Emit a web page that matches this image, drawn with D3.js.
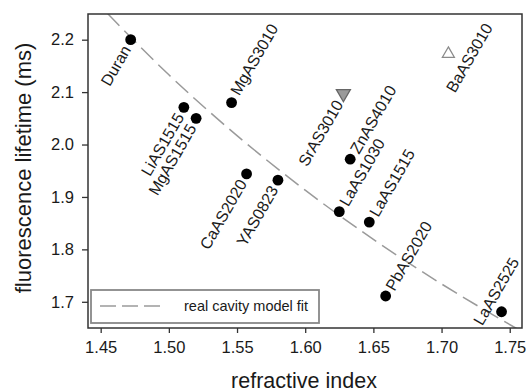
<!DOCTYPE html>
<html>
<head>
<meta charset="utf-8">
<script src="https://cdn.jsdelivr.net/npm/d3@7"></script>
<style>
  html, body { margin: 0; padding: 0; background: #fff; }
  svg { display: block; font-family: "Liberation Sans", Arial, Helvetica, sans-serif; }
</style>
</head>
<body>
<svg id="chart" width="526" height="392"></svg>
<script>
// ---- data ----
const circleNames = ["Duran", "LiAS1515", "MgAS1515", "MgAS3010", "CaAS2020", "YAS0823",
                     "LaAS1030", "ZnAS4010", "LaAS1515", "PbAS2020", "LaAS2525"];
const circleIndex = [1.472, 1.511, 1.520, 1.546, 1.557, 1.580, 1.625, 1.633, 1.647, 1.659, 1.744];
const circleLifetime = [2.200, 2.071, 2.050, 2.080, 1.944, 1.932, 1.872, 1.972, 1.852, 1.711, 1.681];

const triangleNames = ["SrAS3010", "BaAS3010"];
const triangleIndex = [1.628, 1.705];
const triangleLifetime = [2.097, 2.173];

const fitIndex = [1.455, 1.50, 1.55, 1.60, 1.65, 1.70, 1.755];
const fitLifetime = [2.250, 2.133, 2.017, 1.913, 1.819, 1.734, 1.649];

const xTicks = [1.45, 1.50, 1.55, 1.60, 1.65, 1.70, 1.75];
const yTicks = [1.7, 1.8, 1.9, 2.0, 2.1, 2.2];

const xTitle = "refractive index";
const yTitle = "fluorescence lifetime (ms)";
const legendLabel = "real cavity model fit";

// ---- layout ----
const L = 88, R = 522, T = 14, B = 328;
const svg = d3.select("#chart");
const x = d3.scaleLinear().domain([1.4407, 1.759]).range([L, R]);
const y = d3.scaleLinear().domain([1.650, 2.249]).range([B, T]);

// clip
svg.append("defs").append("clipPath").attr("id", "clip")
  .append("rect").attr("x", L).attr("y", T).attr("width", R - L).attr("height", B - T);

// axes
const xAxis = svg.append("g").attr("transform", `translate(0,${B})`)
  .call(d3.axisBottom(x).tickValues(xTicks).tickFormat(d3.format(".2f")).tickSize(5).tickPadding(8));
const yAxis = svg.append("g").attr("transform", `translate(${L},0)`)
  .call(d3.axisLeft(y).tickValues(yTicks).tickFormat(d3.format(".1f")).tickSize(6).tickPadding(8));
[xAxis, yAxis].forEach(g => {
  g.select(".domain").remove();
  g.selectAll(".tick line").attr("stroke", "#333").attr("stroke-width", 1.3);
  g.selectAll(".tick text").attr("fill", "#1a1a1a").style("font-size", "16.5px")
    .style("font-family", "'Liberation Sans', Arial, sans-serif");
});

// fit curve
const line = d3.line().x((d, i) => x(fitIndex[i])).y((d, i) => y(fitLifetime[i])).curve(d3.curveMonotoneX);
svg.append("path").attr("clip-path", "url(#clip)")
  .attr("d", line(fitIndex))
  .attr("fill", "none").attr("stroke", "#9a9a9a").attr("stroke-width", 1.5)
  .attr("stroke-dasharray", "17,7");

// frame
svg.append("rect").attr("x", L).attr("y", T).attr("width", R - L).attr("height", B - T)
  .attr("fill", "none").attr("stroke", "#333").attr("stroke-width", 1.5);

// label placement (rotated frame offsets)
const labelPlace = {
  "Duran": {dx: -8, dy: 0, anchor: "end"},
  "LiAS1515": {dx: -8, dy: 0, anchor: "end"},
  "MgAS1515": {dx: -8, dy: 0, anchor: "end"},
  "MgAS3010": {dx: 9, dy: -2, anchor: "start"},
  "CaAS2020": {dx: -8, dy: 0, anchor: "end"},
  "YAS0823": {dx: -8, dy: 0, anchor: "end"},
  "LaAS1030": {dx: 8, dy: 0, anchor: "start"},
  "ZnAS4010": {dx: 8, dy: 0, anchor: "start"},
  "LaAS1515": {dx: 8, dy: 0, anchor: "start"},
  "PbAS2020": {dx: 8, dy: 0, anchor: "start"},
  "LaAS2525": {dx: 15, dy: -15, anchor: "middle"},
  "SrAS3010": {dx: -9, dy: 0, anchor: "end"},
  "BaAS3010": {dx: 7, dy: 20, anchor: "middle"}
};
const angle = -60;

function addLabel(name, px, py) {
  const p = labelPlace[name];
  svg.append("text")
    .attr("transform", `translate(${px},${py}) rotate(${angle})`)
    .attr("x", p.dx).attr("y", p.dy).attr("dy", "0.35em")
    .attr("text-anchor", p.anchor)
    .attr("fill", "#1a1a1a").style("font-size", "16px")
    .text(name);
}

// circles
circleNames.forEach((name, i) => {
  svg.append("circle").attr("cx", x(circleIndex[i])).attr("cy", y(circleLifetime[i]))
    .attr("r", 5.4).attr("fill", "#000");
  addLabel(name, x(circleIndex[i]), y(circleLifetime[i]));
});

// triangles
const triStyle = [
  {rot: 180, size: 85, fill: "#9a9a9a", stroke: "#666"},
  {rot: 0, size: 62, fill: "#fff", stroke: "#8a8a8a"}
];
triangleNames.forEach((name, i) => {
  const s = triStyle[i];
  svg.append("path")
    .attr("d", d3.symbol(d3.symbolTriangle, s.size)())
    .attr("transform", `translate(${x(triangleIndex[i])},${y(triangleLifetime[i])}) rotate(${s.rot})`)
    .attr("fill", s.fill).attr("stroke", s.stroke).attr("stroke-width", 1.3);
  addLabel(name, x(triangleIndex[i]), y(triangleLifetime[i]));
});

// legend
const lg = svg.append("g");
lg.append("rect").attr("x", 91).attr("y", 290).attr("width", 228).attr("height", 33)
  .attr("fill", "#fff").attr("stroke", "#888").attr("stroke-width", 1.8);
lg.append("line").attr("x1", 100).attr("x2", 160).attr("y1", 306).attr("y2", 306)
  .attr("stroke", "#9a9a9a").attr("stroke-width", 1.5).attr("stroke-dasharray", "16,6");
lg.append("text").attr("x", 184).attr("y", 306).attr("dy", "0.35em")
  .attr("fill", "#1a1a1a").style("font-size", "14.5px").text(legendLabel);

// titles
svg.append("text").attr("x", 304).attr("y", 388).attr("text-anchor", "middle")
  .attr("fill", "#1a1a1a").style("font-size", "21.5px").text(xTitle);
svg.append("text").attr("transform", "translate(31,168) rotate(-90)").attr("text-anchor", "middle")
  .attr("fill", "#1a1a1a").style("font-size", "22px").text(yTitle);
</script>
</body>
</html>
